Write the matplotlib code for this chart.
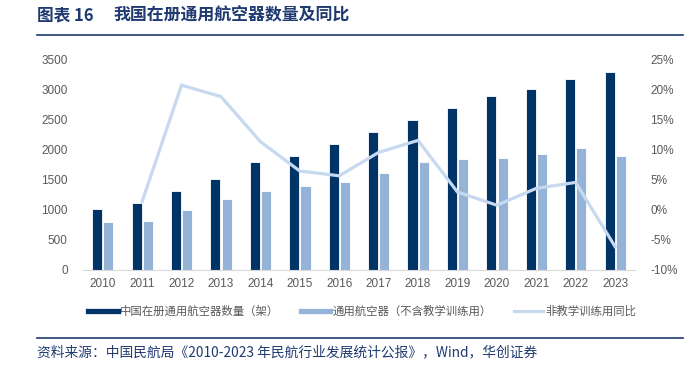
import matplotlib
matplotlib.use("Agg")
import matplotlib.pyplot as plt
from matplotlib.lines import Line2D
import numpy as np

plt.rcParams['font.family'] = ['Liberation Sans', 'Noto Sans CJK SC', 'DejaVu Sans']

years = ['2010', '2011', '2012', '2013', '2014', '2015', '2016', '2017',
         '2018', '2019', '2020', '2021', '2022', '2023']
registered = [1010, 1124, 1320, 1515, 1798, 1904, 2096, 2297, 2495, 2707, 2892, 3018, 3186, 3303]
non_training = [805, 818, 995, 1178, 1311, 1394, 1472, 1611, 1800, 1856, 1872, 1939, 2028, 1906]
yoy_years = years[1:]
yoy = [1.4, 20.8, 18.9, 11.4, 6.5, 5.7, 9.6, 11.6, 3.0, 0.8, 3.6, 4.6, -6.1]

dark = '#003366'
light = '#95B3D7'
line_c = '#C6D9F0'
navy = '#1F3A70'
grey = '#595959'

fig = plt.figure(figsize=(6.9, 3.69), dpi=100)
ax = fig.add_axes([0.1203, 0.2683, 0.7997, 0.5691])
ax2 = ax.twinx()

x = np.arange(len(years))
w = 0.255
ax.bar(x - 0.14, registered, w, color=dark, edgecolor='white', linewidth=0.6, zorder=2)
ax.bar(x + 0.145, non_training, w, color=light, edgecolor='white', linewidth=0.6, zorder=2)

xi = [years.index(y) for y in yoy_years]
ax2.plot(xi, yoy, color=line_c, linewidth=2.3, zorder=3, solid_joinstyle='miter')

ax.set_xlim(-0.5, len(years) - 0.5)
ax.set_ylim(0, 3500)
ax.set_yticks(range(0, 3501, 500))
ax.set_yticklabels([str(v) for v in range(0, 3501, 500)])
ax.set_xticks(x)
ax.set_xticklabels(years)
ax2.set_ylim(-10, 25)
ax2.set_yticks(range(-10, 26, 5))
ax2.set_yticklabels([f'{v}%' for v in range(-10, 26, 5)])

for a in (ax, ax2):
    for s in ('top', 'right', 'left'):
        a.spines[s].set_visible(False)
    a.tick_params(length=0, labelsize=8.5, labelcolor=grey)
ax.spines['bottom'].set_color('#D9D9D9')
ax2.spines['bottom'].set_visible(False)
ax.tick_params(axis='y', pad=11)
ax2.tick_params(axis='y', pad=11)
ax.tick_params(axis='x', pad=6)
ax.set_zorder(ax2.get_zorder() - 1)
ax.patch.set_visible(False)
ax2.patch.set_visible(False)

handles = [Line2D([], [], color=dark, linewidth=3.8),
           Line2D([], [], color=light, linewidth=3.8),
           Line2D([], [], color=line_c, linewidth=2.3)]
labels = ['中国在册通用航空器数量（架）', '通用航空器（不含教学训练用）', '非教学训练用同比']
leg = fig.legend(handles, labels, ncol=3, loc='center', bbox_to_anchor=(0.525, 0.157),
                 frameon=False, handlelength=2.6, handletextpad=0.2, columnspacing=1.9,
                 prop={'family': ['Noto Sans CJK SC'], 'size': 8.2})
for t in leg.get_texts():
    t.set_color(grey)

fig.text(0.054, 0.959, '图表 16', fontsize=12, fontweight='bold', color=navy,
         family=['Noto Sans CJK SC'], va='center', ha='left')
fig.text(0.164, 0.959, '我国在册通用航空器数量及同比', fontsize=12.2, fontweight='bold',
         color=navy, family=['Noto Sans CJK SC'], va='center', ha='left')
fig.add_artist(Line2D([0.054, 0.99], [0.905, 0.905], color=navy, linewidth=1.2,
                      transform=fig.transFigure))
fig.add_artist(Line2D([0.054, 0.99], [0.083, 0.083], color=navy, linewidth=1.2,
                      transform=fig.transFigure))
fig.text(0.054, 0.044, '资料来源：中国民航局《2010-2023 年民航行业发展统计公报》，Wind，华创证券',
         fontsize=9.9, color=navy, family=['Noto Sans CJK SC'], va='center', ha='left')

fig.savefig('out.png', dpi=100)
